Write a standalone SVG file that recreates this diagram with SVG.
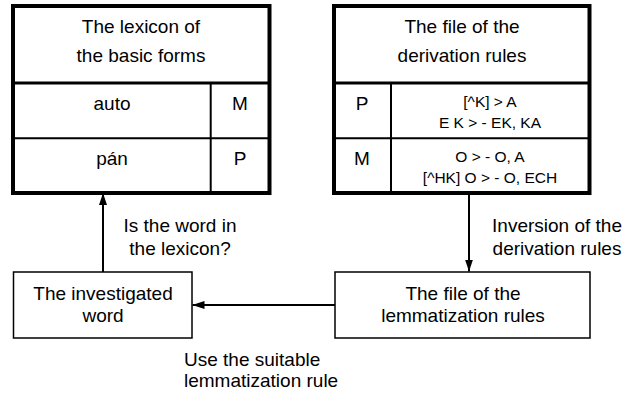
<svg xmlns="http://www.w3.org/2000/svg" width="625" height="393" viewBox="0 0 625 393">
<style>
text{font-family:"Liberation Sans",Arial,sans-serif;fill:#000}
.t{font-size:19px;text-anchor:middle}
.r{font-size:15.5px;text-anchor:middle}
.lb{font-size:19px}
.outer{fill:#fff;stroke:#000;stroke-width:4}
.hsep{stroke:#000;stroke-width:3}
.sep{stroke:#000;stroke-width:2}
.box{fill:#fff;stroke:#000;stroke-width:1.5}
.c{stroke:#000;stroke-width:2;fill:none}
</style>
<defs>
<marker id="ah" viewBox="0 0 12 8" refX="12" refY="4" markerWidth="12" markerHeight="8" markerUnits="userSpaceOnUse" orient="auto">
<path d="M0,0 L12,4 L0,8 Z" fill="#000"/>
</marker>
</defs>
<rect width="625" height="393" fill="#fff"/>
<g id="connectors">
<line class="c" x1="103" y1="272" x2="103" y2="193" marker-end="url(#ah)"/>
<line class="c" x1="469" y1="193" x2="469" y2="271.5" marker-end="url(#ah)"/>
<line class="c" x1="335" y1="305" x2="192.5" y2="305" marker-end="url(#ah)"/>
<text class="lb" text-anchor="middle" x="180" y="232">Is the word in</text>
<text class="lb" text-anchor="middle" x="180" y="255">the lexicon?</text>
<text class="lb" text-anchor="middle" x="557" y="232">Inversion of the</text>
<text class="lb" text-anchor="middle" x="557" y="255">derivation rules</text>
<text class="lb" x="184" y="366">Use the suitable</text>
<text class="lb" x="184" y="387">lemmatization rule</text>
</g>
<g id="lexicon">
<rect class="outer" x="13" y="6" width="256.5" height="187"/>
<line class="hsep" x1="13" y1="83" x2="269.5" y2="83"/>
<line class="sep" x1="13" y1="138.3" x2="269.5" y2="138.3"/>
<line class="sep" x1="210.7" y1="83" x2="210.7" y2="193"/>
<text class="t" x="141" y="33">The lexicon of</text>
<text class="t" x="141" y="62">the basic forms</text>
<text class="t" x="112" y="110">auto</text>
<text class="t" x="240" y="110">M</text>
<text class="t" x="112" y="165">pán</text>
<text class="t" x="240" y="165">P</text>
</g>
<g id="derivation">
<rect class="outer" x="334" y="6" width="255.5" height="187"/>
<line class="hsep" x1="334" y1="83" x2="589.5" y2="83"/>
<line class="sep" x1="334" y1="138.3" x2="589.5" y2="138.3"/>
<line class="sep" x1="391" y1="83" x2="391" y2="193"/>
<text class="t" x="462" y="33">The file of the</text>
<text class="t" x="462" y="62">derivation rules</text>
<text class="t" x="362" y="110">P</text>
<text class="r" x="490" y="107">[^K] &gt; A</text>
<text class="r" x="490" y="128">E K &gt; - EK, KA</text>
<text class="t" x="362" y="165">M</text>
<text class="r" x="490" y="162">O &gt; - O, A</text>
<text class="r" x="490" y="183">[^HK] O &gt; - O, ECH</text>
</g>
<g id="word">
<rect class="box" x="13.5" y="272" width="178.5" height="66"/>
<text class="t" x="103" y="300">The investigated</text>
<text class="t" x="103" y="322">word</text>
</g>
<g id="lemmatization">
<rect class="box" x="335" y="272" width="255" height="66"/>
<text class="t" x="463" y="300">The file of the</text>
<text class="t" x="463" y="322">lemmatization rules</text>
</g>
</svg>
